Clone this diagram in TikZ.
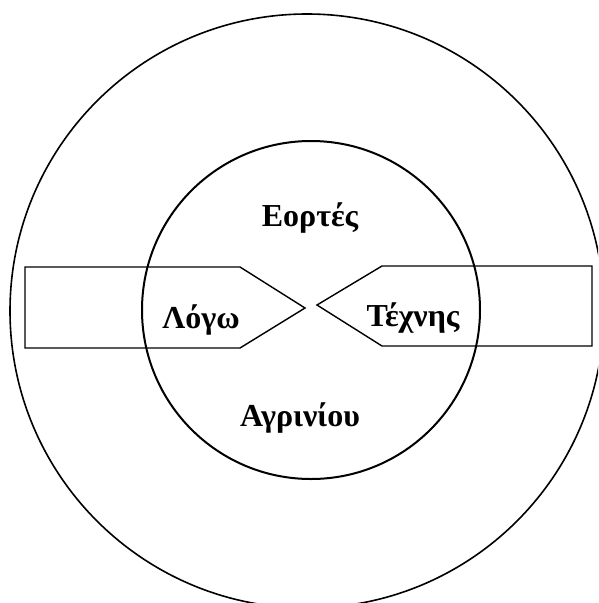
\documentclass[tikz,border=0pt]{standalone}
\usepackage{fontspec}
\setmainfont{Liberation Serif}
\tikzset{
  ring/.style={draw, line width=2pt, circle, inner sep=0pt},
  pointer/.style={draw, line width=1.4pt, line join=miter},
  lbl/.style={font=\bfseries\fontsize{32}{34}\selectfont, inner sep=0pt}
}
\begin{document}
\begin{tikzpicture}[x=1pt,y=-1pt]
\useasboundingbox (0,0) rectangle (598,603);
\clip (0,0) rectangle (598,603);
\node[ring, line width=1.6pt, minimum size=594pt] (outer) at (307,311) {};
\node[ring, minimum size=338pt] (inner) at (311,310) {};
\draw[pointer] (25,267) -- (240,267) -- (305,308) -- (240,348) -- (25,348) -- cycle;
\draw[pointer] (592,266) -- (382,266) -- (317,305) -- (382,346) -- (592,346) -- cycle;
\node[lbl] (eortes) at (310,218) {Εορτές};
\node[lbl] (logo) at (201,320) {Λόγω};
\node[lbl] (technis) at (413,318) {Τέχνης};
\node[lbl] (agriniou) at (300,418) {Αγρινίου};
\end{tikzpicture}
\end{document}
